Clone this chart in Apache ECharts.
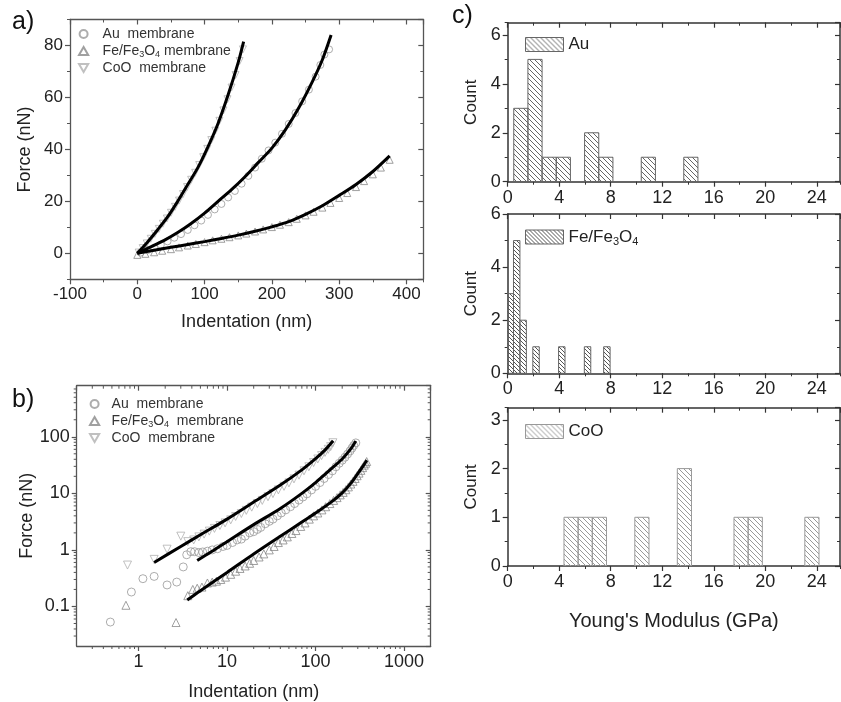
<!DOCTYPE html>
<html>
<head>
<meta charset="utf-8">
<script src="https://cdn.jsdelivr.net/npm/echarts@6/dist/echarts.min.js"></script>
<style>
html, body { margin: 0; padding: 0; background: #fff; }
#main { width: 841px; height: 702px; }
</style>
</head>
<body>
<div id="main"></div>
<script>
// ---- panel a: force vs indentation, linear axes ----
var coA = [[2,0.3],[8,2.0],[14,3.8],[20,5.6],[26,7.5],[32,9.4],[38,11.4],[44,13.4],[50,15.6],[56,17.9],[62,20.3],[68,22.8],[74,25.5],[80,28.3],[86,31.0],[92,34.0],[98,37.0],[104,40.2],[110,43.6],[116,47.2],[122,51.0],[128,55.0],[134,59.3],[140,63.8],[146,68.6],[152,74.0],[157,78.5]];
var auA = [[5,0.3],[15,1.2],[25,2.2],[35,3.3],[45,4.6],[55,6.0],[65,7.4],[75,9.0],[85,10.8],[95,12.6],[105,14.8],[115,16.9],[125,19.0],[135,21.5],[145,24.0],[155,26.8],[165,29.8],[175,33.0],[185,36.4],[195,39.6],[205,42.6],[215,46.0],[225,49.8],[235,54.0],[245,58.5],[255,63.0],[265,68.0],[272,72.5],[278,76.5],[285,78.5]];
var feA = [[0,-0.6],[12,-0.2],[25,0.4],[37,1.0],[50,1.6],[62,2.3],[75,3.0],[87,3.6],[100,4.3],[112,5.0],[125,5.6],[137,6.2],[150,6.9],[162,7.6],[175,8.4],[187,9.2],[200,10.1],[212,11.0],[225,12.0],[237,13.3],[250,14.6],[262,16.0],[275,17.6],[287,19.4],[300,21.3],[312,23.2],[325,25.5],[337,27.8],[350,30.4],[362,33.0],[375,36.0]];
var fitCoA = [[0,0],[15,4.3],[30,9],[45,14],[60,20],[75,26.5],[90,33],[105,41],[120,50],[135,61],[150,73.5],[158,81.5]];
var fitAuA = [[0,0],[20,2.5],[40,5],[60,8],[80,11.5],[100,15.5],[120,20],[140,24.5],[160,29.5],[180,35],[200,40.5],[220,47.5],[240,56],[260,66],[275,74.5],[288,84]];
var fitFeA = [[0,0],[25,1.2],[50,2.3],[75,3.4],[100,4.5],[125,5.7],[150,7],[175,8.5],[200,10.2],[225,12.2],[250,15],[275,18.3],[300,22.3],[325,26.5],[350,31.5],[375,37.5]];

// ---- panel b: same data, log-log ----
var coB = [[0.75,0.54],[1.5,0.68],[2.1,1.03],[3.0,1.75],[3.6,1.4],[4.2,1.5],[4.8,1.7],[5.5,1.9],[6.3,2.15],[7.2,2.4],[8.3,2.7],[9.5,3.0],[11,3.4],[12.5,3.9],[14.5,4.4],[16.5,5.0],[19,5.7],[22,6.6],[25,7.5],[29,8.7],[33,9.9],[38,11.5],[44,13.3],[50,15.3],[57,18],[65,21],[74,25],[84,29.5],[95,35],[106,40.5],[117,46.5],[128,53],[139,60],[148,67],[157,78.5]];
var auB = [[0.48,0.053],[0.83,0.18],[1.12,0.31],[1.5,0.34],[2.1,0.24],[2.7,0.27],[3.2,0.5],[3.5,0.82],[3.9,0.93],[4.3,0.93],[4.8,0.9],[5.3,0.92],[6.0,0.95],[6.8,1.0],[7.8,1.05],[9,1.15],[10,1.2],[11.5,1.35],[13,1.5],[14.5,1.55],[16,1.75],[18,2.0],[20,2.1],[22,2.3],[24,2.5],[27,2.9],[30,3.2],[33,3.5],[37,4.0],[41,4.5],[46,5.1],[52,5.8],[58,6.6],[65,7.6],[72,8.6],[80,9.8],[90,11.5],[100,13.3],[112,15.5],[125,18.3],[140,21.5],[155,25],[170,29.5],[185,34],[200,38.5],[215,43.5],[230,49.5],[245,56],[258,63],[270,70],[285,78]];
var feB = [[0.72,0.105],[2.65,0.052],[3.6,0.155],[4.1,0.2],[4.6,0.21],[5.2,0.22],[6,0.26],[6.8,0.27],[7.6,0.28],[8.5,0.3],[9.6,0.33],[11,0.37],[12.5,0.42],[14,0.47],[16,0.52],[18,0.58],[20,0.65],[23,0.75],[26,0.85],[30,1.0],[34,1.15],[38,1.35],[43,1.5],[48,1.7],[54,1.95],[60,2.2],[68,2.6],[76,3.0],[85,3.5],[95,4.0],[106,4.5],[118,5.1],[130,5.8],[145,6.6],[160,7.5],[175,8.4],[190,9.4],[205,10.4],[220,11.6],[235,13.0],[250,14.6],[265,16.3],[280,18.3],[295,20.5],[310,22.8],[325,25.5],[340,28.5],[355,31.5],[368,34],[378,36.5]];
var fitCoB = [[1.5,0.6],[3,1.15],[5,1.85],[10,3.5],[20,7.0],[40,14],[70,26],[100,41],[130,60],[158,85]];
var fitAuB = [[4.6,0.65],[7,0.98],[10,1.4],[20,2.8],[40,5.4],[70,10],[100,15.5],[150,27],[200,40.5],[250,61],[285,84]];
var fitFeB = [[3.55,0.13],[5,0.19],[10,0.4],[20,0.85],[40,1.75],[70,3.1],[100,4.5],[150,7],[200,10.2],[250,15],[300,22.3],[350,31.5],[380,38.5]];

// log-axis minor tick values for panel b
var logMinorX = [0.3,0.4,0.5,0.6,0.7,0.8,0.9, 2,3,4,5,6,7,8,9, 20,30,40,50,60,70,80,90, 200,300,400,500,600,700,800,900];
var logMinorY = [0.03,0.04,0.05,0.06,0.07,0.08,0.09, 0.2,0.3,0.4,0.5,0.6,0.7,0.8,0.9, 2,3,4,5,6,7,8,9, 20,30,40,50,60,70,80,90, 200,300,400,500,600,700];

// ---- panel c: Young's modulus histograms (bin start, counts) ----
var auBinW = 1.1;
var auStart = [0.47, 1.57, 2.67, 3.77, 5.97, 7.07, 10.37, 13.67];
var auCount = [3, 5, 1, 1, 2, 1, 1, 1];
var feBinW = 0.5;
var feStart = [-0.05, 0.45, 0.95, 1.95, 3.95, 5.95, 7.45];
var feCount = [3, 5, 2, 1, 1, 1, 1];
var coBinW = 1.1;
var coStart = [4.37, 5.47, 6.57, 9.87, 13.17, 17.57, 18.67, 23.07];
var coCount = [1, 1, 1, 1, 2, 1, 1, 1];

var FONT = '"Liberation Sans", Arial, sans-serif';
var chart = echarts.init(document.getElementById('main'));

function hatch(color, gap) {
    var c = document.createElement('canvas');
    c.width = gap; c.height = gap;
    var g = c.getContext('2d');
    g.strokeStyle = color;
    g.lineWidth = 1;
    g.beginPath();
    [-gap, 0, gap].forEach(function (k) {
        g.moveTo(0, k);
        g.lineTo(gap, gap + k);
    });
    g.stroke();
    return {image: c, repeat: 'repeat'};
}
var auPat = hatch('#666', 5);
var fePat = hatch('#555', 4);
var coPat = hatch('#999', 5);

function numLabel(v) {
    return String(+(+v).toPrecision(4));
}

var xAxes = [], yAxes = [];

// major axis with labels + mirrored axis on the other side, plus optional minor-tick axes
function axisSet(list, dim, grid, c) {
    var sides = dim === 'x' ? ['bottom', 'top'] : ['left', 'right'];
    var mainIdx = 0;
    for (var s = 0; s < 2; s++) {
        var inside = s === 1;
        var ax = {
            gridIndex: grid, type: c.type || 'value', position: sides[s],
            min: c.min, max: c.max,
            axisLine: {show: true, onZero: false, lineStyle: {color: c.color, width: c.lw}},
            axisTick: {show: true, inside: inside, length: 5, lineStyle: {color: c.color, width: 1.2}},
            axisLabel: {
                show: !inside, margin: c.margin || 7, fontSize: c.fs, fontFamily: FONT, color: '#222',
                showMinLabel: c.showMin, showMaxLabel: c.showMax, formatter: numLabel
            },
            splitLine: {show: false}
        };
        if (c.interval) ax.interval = c.interval;
        if (c.splitNumber) ax.splitNumber = c.splitNumber;
        if (!inside && c.name) {
            ax.name = c.name;
            ax.nameLocation = 'middle';
            ax.nameGap = c.nameGap;
            ax.nameTextStyle = {fontSize: c.nameSize, fontFamily: FONT, color: '#222'};
        }
        list.push(ax);
        if (!inside) mainIdx = list.length - 1;
        if (c.minor) {
            list.push({
                gridIndex: grid, type: 'value', position: sides[s],
                min: c.min, max: c.max, interval: c.minor,
                axisLine: {show: false, onZero: false},
                axisTick: {show: true, inside: inside, length: 3, lineStyle: {color: c.color, width: 1}},
                axisLabel: {show: false},
                splitLine: {show: false}
            });
        }
    }
    return mainIdx;
}

var frameA = '#555', frameC = '#333';
var axA = axisSet(xAxes, 'x', 0, {min: -100, max: 425, interval: 100, minor: 50, color: frameA, lw: 1.3, fs: 17,
    showMin: true, showMax: false, name: 'Indentation (nm)', nameGap: 34, nameSize: 18});
var ayA = axisSet(yAxes, 'y', 0, {min: -10, max: 90, splitNumber: 5, minor: 10, color: frameA, lw: 1.3, fs: 17,
    showMin: false, showMax: false, name: 'Force (nN)', nameGap: 36, nameSize: 18});
var axB = axisSet(xAxes, 'x', 1, {type: 'log', min: 0.2, max: 2000, color: frameA, lw: 1.3, fs: 18,
    showMin: false, showMax: false, name: 'Indentation (nm)', nameGap: 37, nameSize: 18});
var ayB = axisSet(yAxes, 'y', 1, {type: 'log', min: 0.02, max: 800, color: frameA, lw: 1.3, fs: 18,
    showMin: false, showMax: false, name: 'Force (nN)', nameGap: 40, nameSize: 18});

var hx = [], hy = [];
var histY = [
    {max: 6.5, interval: 2, minor: 1, showMax: false},
    {max: 6, interval: 2, minor: 1, showMax: true},
    {max: 3.25, interval: 1, minor: 0.5, showMax: false}
];
for (var h = 0; h < 3; h++) {
    hx.push(axisSet(xAxes, 'x', 2 + h, {min: 0, max: 25.8, interval: 4, minor: 2, color: frameC, lw: 1.5, fs: 18,
        showMin: true, showMax: false,
        name: h === 2 ? "Young's Modulus (GPa)" : '', nameGap: 45, nameSize: 20}));
    hy.push(axisSet(yAxes, 'y', 2 + h, {min: 0, max: histY[h].max, interval: histY[h].interval, minor: histY[h].minor,
        color: frameC, lw: 1.5, fs: 18, showMin: true, showMax: histY[h].showMax,
        name: 'Count', nameGap: 28, nameSize: 17}));
}

function scatter(name, xi, yi, data, symbol, size, color) {
    return {
        type: 'scatter', name: name, xAxisIndex: xi, yAxisIndex: yi, data: data,
        symbol: symbol, symbolSize: size, z: 2,
        itemStyle: {color: 'rgba(0,0,0,0)', borderColor: color, borderWidth: 1}
    };
}
function fit(name, xi, yi, data) {
    return {
        type: 'line', name: name, xAxisIndex: xi, yAxisIndex: yi, data: data,
        smooth: 0.3, showSymbol: false, z: 3,
        lineStyle: {color: '#000', width: 3}
    };
}
function hist(name, xi, yi, starts, width, counts, stroke, fill) {
    return {
        type: 'custom', name: name, xAxisIndex: xi, yAxisIndex: yi, clip: true,
        itemStyle: {color: fill, borderColor: stroke, borderWidth: 1},
        data: starts.map(function (s, i) { return [s, s + width, counts[i]]; }),
        encode: {x: [0, 1], y: 2},
        renderItem: function (params, api) {
            var p0 = api.coord([api.value(0), 0]);
            var p1 = api.coord([api.value(1), api.value(2)]);
            return {
                type: 'rect',
                shape: {x: p0[0], y: p1[1], width: p1[0] - p0[0], height: p0[1] - p1[1]},
                style: {fill: fill, stroke: stroke, lineWidth: 1}
            };
        }
    };
}
// minor ticks of the log axes: outward on bottom/left, inward on top/right
function logTicks(xi, yi, xs, ys, color) {
    var data = xs.map(function (v) { return [v, 1, 0]; })
        .concat(ys.map(function (v) { return [1, v, 1]; }));
    return {
        type: 'custom', name: 'logTicks', xAxisIndex: xi, yAxisIndex: yi, silent: true, z: 5,
        data: data, encode: {x: 0, y: 1},
        renderItem: function (params, api) {
            var r = params.coordSys;
            var p = api.coord([api.value(0), api.value(1)]);
            var st = {stroke: color, lineWidth: 1};
            var L = 3;
            if (api.value(2) === 0) {
                return {type: 'group', children: [
                    {type: 'line', shape: {x1: p[0], y1: r.y + r.height, x2: p[0], y2: r.y + r.height + L}, style: st},
                    {type: 'line', shape: {x1: p[0], y1: r.y, x2: p[0], y2: r.y + L}, style: st}
                ]};
            }
            return {type: 'group', children: [
                {type: 'line', shape: {x1: r.x - L, y1: p[1], x2: r.x, y2: p[1]}, style: st},
                {type: 'line', shape: {x1: r.x + r.width - L, y1: p[1], x2: r.x + r.width, y2: p[1]}, style: st}
            ]};
        }
    };
}

var DOWN = 'path://M0,0 L10,0 L5,8.7 Z';
var UP = 'path://M5,0 L10,8.7 L0,8.7 Z';
var cCo = '#b0b0b0', cAu = '#999', cFe = '#888';

var rich = {
    t: {fontSize: 14, fontFamily: FONT, color: '#333', lineHeight: 17},
    s: {fontSize: 9, fontFamily: FONT, color: '#333', lineHeight: 17, padding: [7, 0, 0, 0]}
};
function memFmt(sep) {
    return function (n) {
        if (n === 'Fe/Fe3O4 membrane') return '{t|Fe/Fe}{s|3}{t|O}{s|4}{t|' + sep + 'membrane}';
        return '{t|' + n + '}';
    };
}
var richH = {
    t: {fontSize: 17, fontFamily: FONT, color: '#222', lineHeight: 18},
    s: {fontSize: 11, fontFamily: FONT, color: '#222', lineHeight: 18, padding: [9, 0, 0, 0]}
};

option = {
    backgroundColor: '#fff',
    animation: false,
    textStyle: {fontFamily: FONT},
    grid: [
        {left: 70, top: 19.5, width: 353.3, height: 259.8, outerBoundsMode: 'none'},
        {left: 76.7, top: 385.7, width: 354, height: 260.3, outerBoundsMode: 'none'},
        {left: 507.7, top: 22.7, width: 332.3, height: 159, outerBoundsMode: 'none'},
        {left: 507.7, top: 214, width: 332.3, height: 159.3, outerBoundsMode: 'none'},
        {left: 507.7, top: 407.7, width: 332.3, height: 158.3, outerBoundsMode: 'none'}
    ],
    xAxis: xAxes,
    yAxis: yAxes,
    legend: [
        {left: 73, top: 22, orient: 'vertical', itemWidth: 28, itemHeight: 8, itemGap: 2, selectedMode: false,
            data: ['Au  membrane', 'Fe/Fe3O4 membrane', 'CoO  membrane'],
            formatter: memFmt(' '), textStyle: {rich: rich}},
        {left: 84, top: 392, orient: 'vertical', itemWidth: 24, itemHeight: 8, itemGap: 2, selectedMode: false,
            data: ['Au  membrane', 'Fe/Fe3O4 membrane', 'CoO  membrane'],
            formatter: memFmt('  '), textStyle: {rich: rich}},
        {left: 520, top: 31, itemWidth: 38, itemHeight: 14, selectedMode: false,
            data: [{name: 'Au', icon: 'rect', itemStyle: {color: auPat, borderColor: '#666', borderWidth: 1}}],
            textStyle: {fontSize: 17, color: '#222'}},
        {left: 520, top: 222, itemWidth: 38, itemHeight: 14, selectedMode: false,
            data: [{name: 'Fe/Fe3O4', icon: 'rect', itemStyle: {color: fePat, borderColor: '#666', borderWidth: 1}}],
            formatter: function () { return '{t|Fe/Fe}{s|3}{t|O}{s|4}'; },
            textStyle: {rich: richH}},
        {left: 520, top: 418, itemWidth: 38, itemHeight: 14, selectedMode: false,
            data: [{name: 'CoO', icon: 'rect', itemStyle: {color: coPat, borderColor: '#999', borderWidth: 1}}],
            textStyle: {fontSize: 17, color: '#222'}}
    ],
    graphic: [
        {type: 'text', left: 12, top: 10, style: {text: 'a)', font: '25px "Liberation Sans", Arial', fill: '#111'}},
        {type: 'text', left: 12, top: 388, style: {text: 'b)', font: '25px "Liberation Sans", Arial', fill: '#111'}},
        {type: 'text', left: 452, top: 4, style: {text: 'c)', font: '25px "Liberation Sans", Arial', fill: '#111'}}
    ],
    series: [
        scatter('CoO  membrane', axA, ayA, coA, DOWN, 7, cCo),
        scatter('Au  membrane', axA, ayA, auA, 'circle', 7, cAu),
        scatter('Fe/Fe3O4 membrane', axA, ayA, feA, UP, 7, cFe),
        fit('fitCoA', axA, ayA, fitCoA),
        fit('fitAuA', axA, ayA, fitAuA),
        fit('fitFeA', axA, ayA, fitFeA),
        scatter('CoO  membrane', axB, ayB, coB, DOWN, 8, cCo),
        scatter('Au  membrane', axB, ayB, auB, 'circle', 8, cAu),
        scatter('Fe/Fe3O4 membrane', axB, ayB, feB, UP, 8, cFe),
        fit('fitCoB', axB, ayB, fitCoB),
        fit('fitAuB', axB, ayB, fitAuB),
        fit('fitFeB', axB, ayB, fitFeB),
        logTicks(axB, ayB, logMinorX, logMinorY, frameA),
        hist('Au', hx[0], hy[0], auStart, auBinW, auCount, '#666', auPat),
        hist('Fe/Fe3O4', hx[1], hy[1], feStart, feBinW, feCount, '#666', fePat),
        hist('CoO', hx[2], hy[2], coStart, coBinW, coCount, '#999', coPat)
    ]
};
chart.setOption(option);
</script>
</body>
</html>
